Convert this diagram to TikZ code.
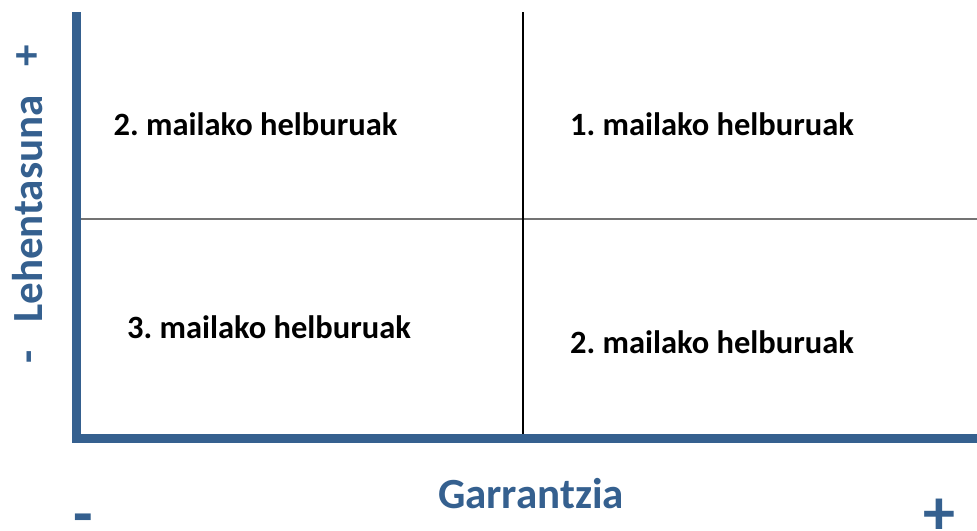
\documentclass[tikz,border=0pt]{standalone}
\usepackage{fontspec}
\setmainfont{Carlito}
\definecolor{axisblue}{HTML}{35608F}
\begin{document}
\frenchspacing
\begin{tikzpicture}[x=1pt,y=-1pt,
  lbl/.style={font=\bfseries\fontsize{32.5}{36}\selectfont, text=black, inner sep=0pt, anchor=base},
  axlbl/.style={font=\bfseries\fontsize{43}{48}\selectfont, text=axisblue, inner sep=0pt, anchor=base},
  bigsign/.style={font=\bfseries\fontsize{64}{70}\selectfont, text=axisblue, inner sep=0pt, anchor=base}]
\useasboundingbox[fill=white] (0,0) rectangle (977,530);
\coordinate (top) at (76.5,12);
\coordinate (corner) at (76.5,438.5);
\coordinate (right) at (977,438.5);
\coordinate (midL) at (81,219);
\coordinate (midR) at (977,219);
\coordinate (vT) at (523,12);
\coordinate (vB) at (523,434);
\draw[gray!90!black, line width=1.3pt] (midL) -- (midR);
\draw[black, line width=1.3pt] (vT) -- (vB);
\draw[axisblue, line width=9pt] (top) -- (corner) -- (right);
\node[lbl] (q1) at (255.5,135) {2. mailako helburuak};
\node[lbl] (q2) at (712,135) {1. mailako helburuak};
\node[lbl] (q3) at (269,338) {3. mailako helburuak};
\node[lbl] (q4) at (712,353) {2. mailako helburuak};
\node[axlbl] (gx) at (531,508) {Garrantzia};
\node[bigsign] (xm) at (83,535) {-};
\node[bigsign] (xp) at (939,534) {+};
\node[axlbl, rotate=90] (gy) at (42,209) {Lehentasuna};
\node[axlbl, rotate=90] (ym) at (41,357) {-};
\node[axlbl, rotate=90] (yp) at (40,56) {+};
\end{tikzpicture}
\end{document}
